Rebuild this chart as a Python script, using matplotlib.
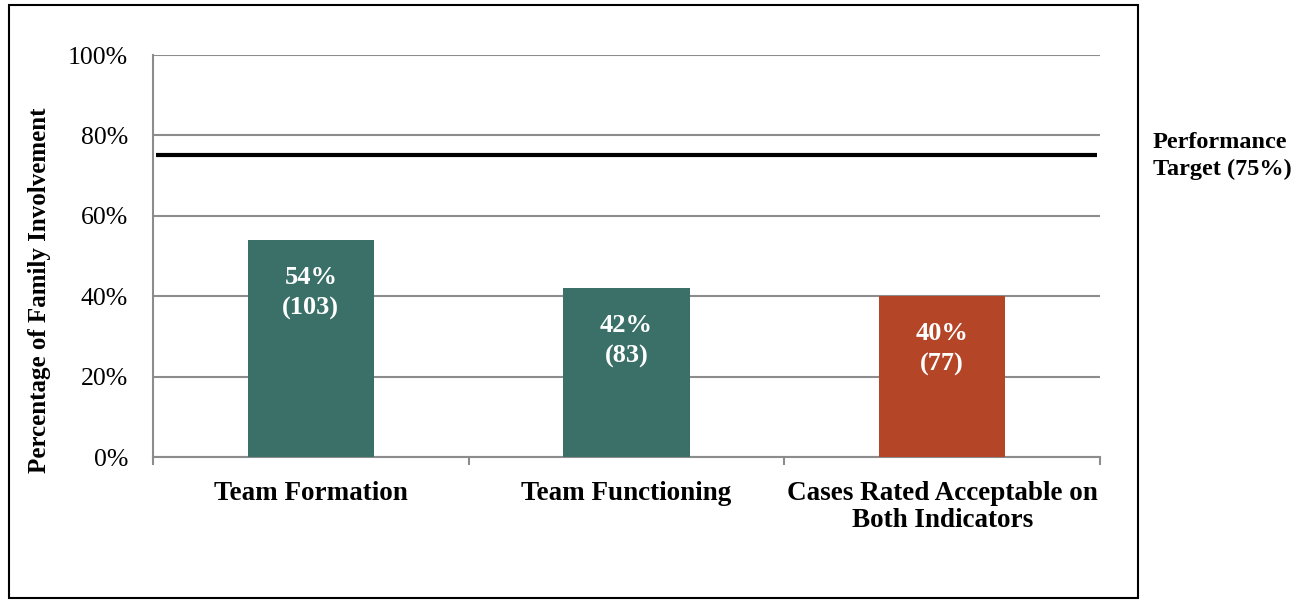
import matplotlib.pyplot as plt
from matplotlib.patches import Rectangle

# family involvement by indicator
categories = ["Team Formation", "Team Functioning",
              "Cases Rated Acceptable on\nBoth Indicators"]
percents = [54, 42, 40]
counts = [103, 83, 77]
bar_colors = ["#3A7068", "#3A7068", "#B54527"]
target = 75
yticks = [0, 20, 40, 60, 80, 100]

plt.rcParams['font.family'] = ['Liberation Serif', 'DejaVu Serif']

fig = plt.figure(figsize=(13.07, 6.0), dpi=100)
ax = fig.add_axes([153 / 1307, 1 - 457 / 600, 947 / 1307, 402 / 600])

x = list(range(len(categories)))
ax.bar(x, percents, width=0.4, color=bar_colors, zorder=3)
for xi, p, n in zip(x, percents, counts):
    ax.text(xi, p - 6.5, f"{p}%\n({n})", ha='center', va='top', color='white',
            fontsize=19, fontweight='bold', linespacing=1.4, zorder=4)

# target line
ax.plot([-0.49, 2.49], [target, target], color='black', lw=3, zorder=4,
        solid_capstyle='butt')

ax.set_xlim(-0.5, 2.5)
ax.set_ylim(0, 100)
ax.set_yticks(yticks)
ax.set_yticklabels([f"{t}%" for t in yticks], fontsize=18.5)
ax.yaxis.grid(True, color='#8c8c8c', lw=1.5, zorder=0)
ax.set_axisbelow(True)
ax.tick_params(axis='y', length=0, pad=18)

ax.set_xticks(x)
ax.set_xticklabels(categories, fontsize=19.5, fontweight='bold', linespacing=1.15)
ax.set_xticks([-0.5, 0.5, 1.5, 2.5], minor=True)
ax.tick_params(axis='x', which='major', length=0, pad=17)
ax.tick_params(axis='x', which='minor', length=6, color='#8c8c8c', width=1.5)

for s in ['top', 'right']:
    ax.spines[s].set_visible(False)
for s in ['left', 'bottom']:
    ax.spines[s].set_color('#8c8c8c')
    ax.spines[s].set_linewidth(1.5)

fig.text(40 / 1307, 1 - 290 / 600, "Percentage of Family Involvement",
         fontsize=18, fontweight='bold', rotation=90,
         ha='center', va='center')

fig.text(1153 / 1307, 1 - 156 / 600, "Performance\nTarget (75%)",
         fontsize=17.5, fontweight='bold', ha='left', va='center',
         linespacing=1.4)

# outer frame
fig.patches.append(Rectangle((9 / 1307, 2 / 600), 1129 / 1307, 593 / 600,
                             transform=fig.transFigure, fill=False,
                             edgecolor='black', lw=1.5))

fig.savefig("out.png", dpi=100)
